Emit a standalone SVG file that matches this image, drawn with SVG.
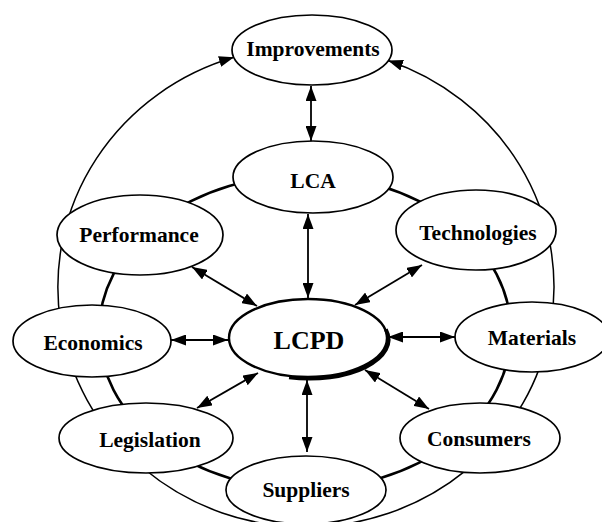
<svg xmlns="http://www.w3.org/2000/svg" width="602" height="522" viewBox="0 0 602 522">
<defs>
<marker id="ah" markerUnits="userSpaceOnUse" markerWidth="15" markerHeight="11" refX="15" refY="5.5" orient="auto-start-reverse" viewBox="0 0 15 11">
<path d="M0,0 L15,5.5 L0,11 z" fill="#000"/>
</marker>
<style>
.ring{fill:none;stroke:#000}
.node ellipse{fill:#fff;stroke:#000;stroke-width:1.7}
.node text{font-family:"Liberation Serif","Times New Roman",serif;font-weight:bold;font-size:21.5px;text-anchor:middle;fill:#000}
.arr{stroke:#000;stroke-width:1.8;fill:none;marker-start:url(#ah);marker-end:url(#ah)}
</style>
</defs>
<rect width="602" height="522" fill="#fff"/>
<g id="rings">
<path class="ring" stroke-width="1.5" d="M306,527 A248,240 0 0 1 234,57.3" marker-end="url(#ah)"/>
<path class="ring" stroke-width="1.5" d="M306,527 A248,240 0 0 0 388,60.5" marker-end="url(#ah)"/>
<ellipse class="ring" stroke-width="2.6" cx="305" cy="332" rx="206" ry="157"/>
</g>
<g id="node-improvements" class="node"><ellipse cx="312" cy="50" rx="80" ry="35"/><text x="313" y="56">Improvements</text></g>
<g id="node-lca" class="node"><ellipse cx="313" cy="177" rx="80" ry="36"/><text x="313" y="188">LCA</text></g>
<g id="node-performance" class="node"><ellipse cx="140" cy="235" rx="83" ry="40"/><text x="139" y="242">Performance</text></g>
<g id="node-technologies" class="node"><ellipse cx="476" cy="230" rx="80" ry="40"/><text x="478" y="240">Technologies</text></g>
<g id="node-economics" class="node"><ellipse cx="92" cy="341" rx="79" ry="36"/><text x="93" y="350">Economics</text></g>
<g id="node-materials" class="node"><ellipse cx="532" cy="337" rx="77" ry="35"/><text x="532" y="345">Materials</text></g>
<g id="node-legislation" class="node"><ellipse cx="146" cy="438" rx="87" ry="35"/><text x="150" y="447">Legislation</text></g>
<g id="node-consumers" class="node"><ellipse cx="480" cy="438" rx="80" ry="35"/><text x="479" y="446">Consumers</text></g>
<g id="node-suppliers" class="node"><ellipse cx="306" cy="490" rx="80" ry="34"/><text x="306" y="497">Suppliers</text></g>
<g id="node-lcpd" class="node">
<ellipse cx="308" cy="338" rx="79" ry="39" style="stroke-width:2.4"/>
<path d="M385.8,329.4 A79,39 0 0 1 289.1,377.2" fill="none" stroke="#000" stroke-width="4"/>
<text x="309" y="349" style="font-size:26px">LCPD</text>
</g>
<g id="connectors">
<line class="arr" x1="311" y1="86" x2="311" y2="141"/>
<line class="arr" x1="308" y1="214" x2="308" y2="298"/>
<line class="arr" x1="192" y1="267" x2="257" y2="306"/>
<line class="arr" x1="422" y1="265" x2="355" y2="305"/>
<line class="arr" x1="171" y1="340" x2="228" y2="340"/>
<line class="arr" x1="455" y1="337" x2="388" y2="337"/>
<line class="arr" x1="197" y1="408" x2="258" y2="373"/>
<line class="arr" x1="429" y1="409" x2="365" y2="370"/>
<line class="arr" x1="307" y1="452" x2="307" y2="380"/>
</g>
</svg>
